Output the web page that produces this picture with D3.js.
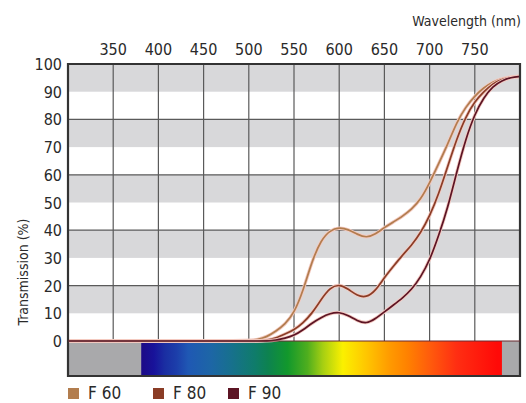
<!DOCTYPE html>
<html>
<head>
<meta charset="utf-8">
<script src="https://cdn.jsdelivr.net/npm/d3@7"></script>
<style>
  body { margin: 0; background: #fff; }
  text { font-family: "DejaVu Sans Condensed", "DejaVu Sans", sans-serif; fill: #2a2a2a; }
</style>
</head>
<body>
<div id="chart"></div>
<script>
// wavelength samples (nm) shared by all three curves
var wavelengths = [300, 500, 510, 520, 530, 540, 550, 560, 570, 580, 590, 600, 610, 620, 630, 640, 650,
                   660, 670, 680, 690, 700, 710, 720, 730, 740, 750, 760, 770, 780, 790, 800];
var f60 = [0, 0, 0.5, 1.5, 3.5, 6, 10, 18, 29, 36.5, 40, 41, 40.3, 38.5, 37.2, 38.5, 41,
           43, 45, 47.5, 51, 57, 64, 71, 79, 84.5, 88.5, 91.5, 93.5, 94.8, 95.3, 95.5];
var f80 = [0, 0, 0, 0.3, 1, 2.5, 4, 6.5, 10, 15, 19.3, 20.5, 18.8, 16.3, 15.7, 18, 23,
           27, 31, 34.5, 39, 45, 53, 63, 73, 81, 86.5, 90, 93, 94.5, 95.3, 95.5];
var f90 = [0, 0, 0, 0, 0.3, 1, 2, 4, 6.5, 8.5, 10, 10.5, 9.2, 7.3, 6.2, 8, 10.5,
           13, 15.5, 18.5, 23, 29, 38, 48, 61, 73, 82, 88, 92, 94, 95.2, 95.5];

var seriesNames = ["F 60", "F 80", "F 90"];
var seriesColors = ["#b27d4e", "#8a3c26", "#5c1424"];

var xTicks = [350, 400, 450, 500, 550, 600, 650, 700, 750];
var yTicks = [0, 10, 20, 30, 40, 50, 60, 70, 80, 90, 100];
var bandStarts = [10, 30, 50, 70, 90];

// visible spectrum stops
var specWl = [381, 395, 407, 420, 433, 458, 480, 507, 521, 543, 565, 582, 604, 630, 656, 675, 700, 730, 775, 780];
var specColor = ["#1c0a86", "#18129a", "#1a2ea2", "#1c3eaa", "#1f58b4", "#1d66a6", "#17708e", "#0f7c6a",
                 "#0d8250", "#12982c", "#4fae1e", "#a6cf12", "#fbf000", "#ffc600", "#ff9a00", "#ff8200",
                 "#ff5c0c", "#ff2e12", "#ff0a08", "#ff0a08"];

var width = 526, height = 403;
var plotLeft = 68, plotRight = 520, plotTop = 64, plotBottom = 341, specBottom = 376;

var svg = d3.select("#chart").append("svg")
  .attr("width", width)
  .attr("height", height);

var x = d3.scaleLinear().domain([300, 800]).range([plotLeft, plotRight]);
var y = d3.scaleLinear().domain([0, 100]).range([plotBottom, plotTop]);

// grey bands
svg.selectAll(".band")
  .data(bandStarts)
  .enter().append("rect")
  .attr("x", plotLeft)
  .attr("y", function(d) { return y(d + 10); })
  .attr("width", plotRight - plotLeft)
  .attr("height", function(d) { return y(d) - y(d + 10); })
  .style("fill", "#d8d8da");

// grid
svg.selectAll(".hgrid")
  .data([20, 40, 60, 80])
  .enter().append("line")
  .attr("x1", plotLeft).attr("x2", plotRight)
  .attr("y1", function(d) { return y(d); })
  .attr("y2", function(d) { return y(d); })
  .style("stroke", "#5a5a5a").style("stroke-width", 1.2);

svg.selectAll(".vgrid")
  .data(xTicks)
  .enter().append("line")
  .attr("x1", function(d) { return x(d); })
  .attr("x2", function(d) { return x(d); })
  .attr("y1", plotTop).attr("y2", plotBottom)
  .style("stroke", "#5a5a5a").style("stroke-width", 1.2);

// spectrum bar
var grad = svg.append("defs").append("linearGradient")
  .attr("id", "spec")
  .attr("gradientUnits", "userSpaceOnUse")
  .attr("x1", x(specWl[0])).attr("x2", x(specWl[specWl.length - 1]))
  .attr("y1", 0).attr("y2", 0);
var span = specWl[specWl.length - 1] - specWl[0];
grad.selectAll("stop")
  .data(specWl)
  .enter().append("stop")
  .attr("offset", function(d) { return (d - specWl[0]) / span; })
  .attr("stop-color", function(d, i) { return specColor[i]; });

svg.append("rect")
  .attr("x", plotLeft).attr("y", plotBottom)
  .attr("width", plotRight - plotLeft).attr("height", specBottom - plotBottom)
  .style("fill", "#a9a9ab");
svg.append("rect")
  .attr("x", x(specWl[0])).attr("y", plotBottom)
  .attr("width", x(specWl[specWl.length - 1]) - x(specWl[0]))
  .attr("height", specBottom - plotBottom)
  .style("fill", "url(#spec)");

// curves
var line = d3.line()
  .x(function(d) { return x(d[0]); })
  .y(function(d) { return y(d[1]); })
  .curve(d3.curveBasis);

var allSeries = [f60, f80, f90];
allSeries.forEach(function(vals, i) {
  var pts = wavelengths.map(function(w, j) { return [w, vals[j]]; });
  svg.append("path")
    .attr("d", line(pts))
    .style("fill", "none")
    .style("stroke", "#f3c9c0")
    .style("stroke-width", 3.4);
  svg.append("path")
    .attr("d", line(pts))
    .style("fill", "none")
    .style("stroke", seriesColors[i])
    .style("stroke-width", 1.7);
});

// frame
svg.append("path")
  .attr("d", "M" + plotLeft + "," + specBottom + "V" + plotTop + "H" + plotRight + "V" + specBottom + "Z")
  .style("fill", "none")
  .style("stroke", "#333")
  .style("stroke-width", 2.2);
svg.append("line")
  .attr("x1", plotLeft).attr("x2", plotRight)
  .attr("y1", plotBottom).attr("y2", plotBottom)
  .style("stroke", "#6a2a30").style("stroke-width", 1.2);

// axes text
svg.selectAll(".xlab")
  .data(xTicks)
  .enter().append("text")
  .attr("x", function(d) { return x(d); })
  .attr("y", 55)
  .attr("text-anchor", "middle")
  .style("font-size", "16px")
  .text(function(d) { return d; });

svg.selectAll(".ylab")
  .data(yTicks)
  .enter().append("text")
  .attr("x", 62)
  .attr("y", function(d) { return y(d) + 6; })
  .attr("text-anchor", "end")
  .style("font-size", "16px")
  .text(function(d) { return d; });

svg.append("text")
  .attr("x", 521).attr("y", 26)
  .attr("text-anchor", "end")
  .style("font-size", "14px")
  .text("Wavelength (nm)");

svg.append("text")
  .attr("transform", "translate(28,272) rotate(-90)")
  .attr("text-anchor", "middle")
  .style("font-size", "14px")
  .text("Transmission (%)");

// legend
var legendX = [68, 153, 228];
seriesNames.forEach(function(name, i) {
  svg.append("rect")
    .attr("x", legendX[i]).attr("y", 388)
    .attr("width", 11).attr("height", 11)
    .style("fill", seriesColors[i]);
  svg.append("text")
    .attr("x", legendX[i] + 20).attr("y", 399)
    .style("font-size", "17px")
    .text(name);
});
</script>
</body>
</html>
